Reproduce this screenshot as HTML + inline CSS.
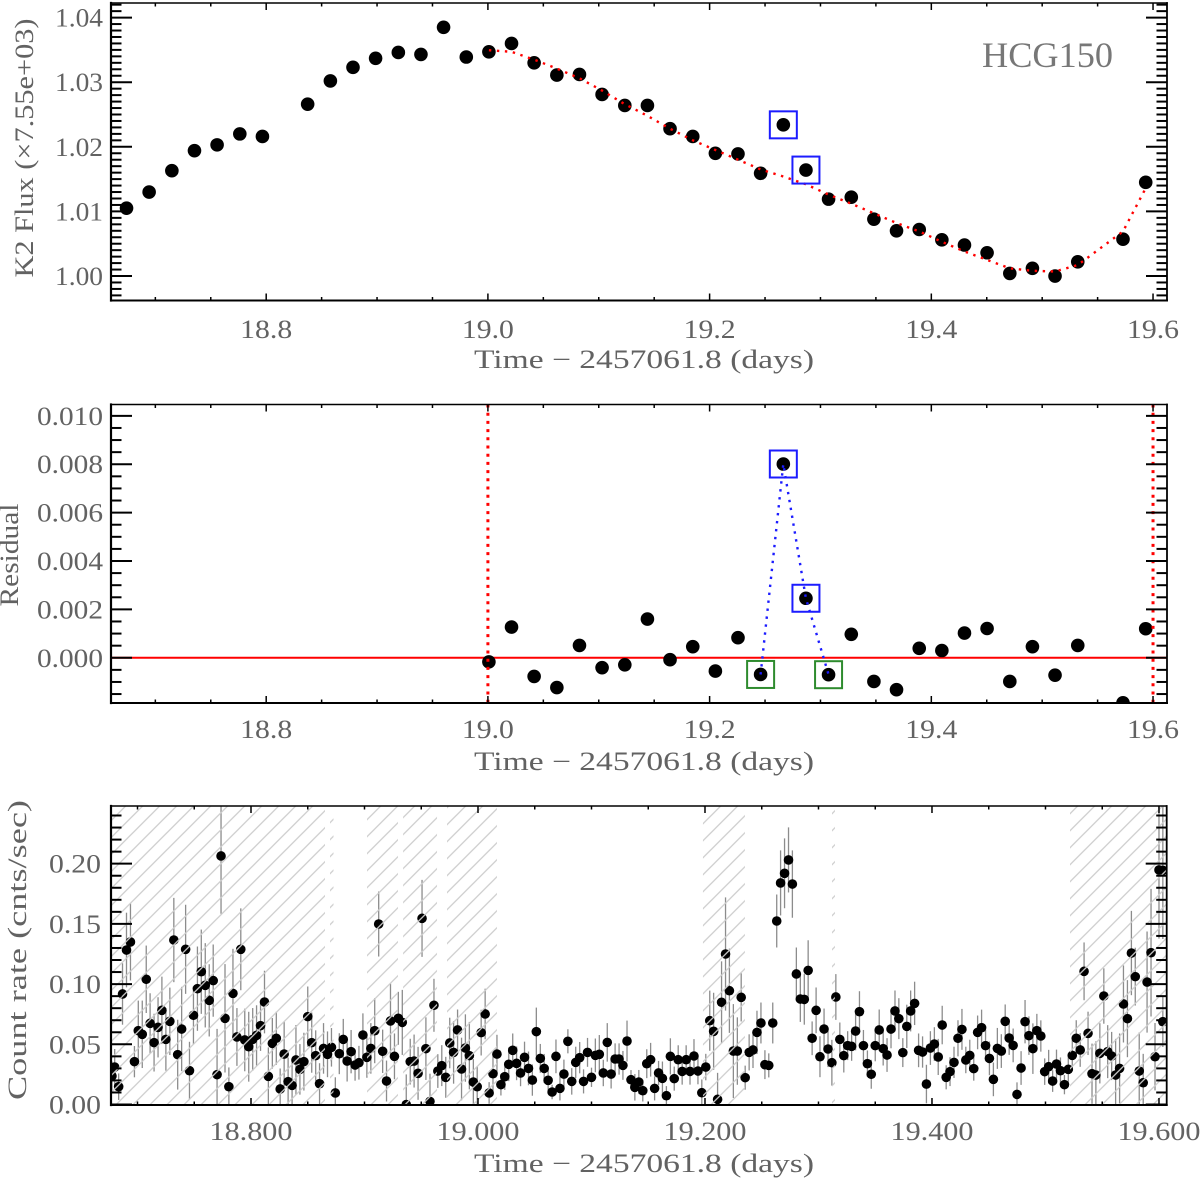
<!DOCTYPE html>
<html lang="en">
<head>
<meta charset="utf-8">
<title>HCG150 K2 and X-ray light curves</title>
<style>
html,body{margin:0;padding:0;background:#fff;}
svg{display:block;}
text{font-family:"Liberation Serif","DejaVu Serif",serif;fill:#626262;}
</style>
</head>
<body>
<svg id="chart" xmlns="http://www.w3.org/2000/svg" width="1200" height="1179" viewBox="0 0 1200 1179">
  <defs>
    <pattern id="flare-hatch" patternUnits="userSpaceOnUse" width="17" height="17" patternTransform="translate(13.7 0)">
      <path d="M-2 19L19 -2M-2 2L2 -2M15 19L19 15" stroke="#cdcdcd" stroke-width="1.3" fill="none"/>
    </pattern>
    <clipPath id="clip-k2"><rect x="111" y="3" width="1056" height="297.5"/></clipPath>
    <clipPath id="clip-resid"><rect x="111" y="404.5" width="1056" height="298.5"/></clipPath>
    <clipPath id="clip-xray"><rect x="111" y="806" width="1055.7" height="299"/></clipPath>
  </defs>

  <g id="panel-k2"></g>
  <g id="panel-resid"></g>
  <g id="panel-xray"></g>

  <text transform="translate(33 148) rotate(-90)" text-anchor="middle" font-size="26" textLength="259" lengthAdjust="spacingAndGlyphs">K2 Flux (×7.55e+03)</text>
  <text x="644" y="368" text-anchor="middle" font-size="26" textLength="340" lengthAdjust="spacingAndGlyphs">Time − 2457061.8 (days)</text>
  <text x="982" y="67" font-size="36" textLength="131" lengthAdjust="spacingAndGlyphs" style="fill:#777">HCG150</text>

  <text transform="translate(18 555) rotate(-90)" text-anchor="middle" font-size="26" textLength="103" lengthAdjust="spacingAndGlyphs">Residual</text>
  <text x="644" y="770" text-anchor="middle" font-size="26" textLength="340" lengthAdjust="spacingAndGlyphs">Time − 2457061.8 (days)</text>

  <text transform="translate(26 950) rotate(-90)" text-anchor="middle" font-size="26" textLength="300" lengthAdjust="spacingAndGlyphs">Count rate (cnts/sec)</text>
  <text x="644" y="1172" text-anchor="middle" font-size="26" textLength="340" lengthAdjust="spacingAndGlyphs">Time − 2457061.8 (days)</text>
</svg>

<script>
// ---- K2 light curve (days, normalised flux) ----
const k2Times = [18.6740,18.6944,18.7149,18.7353,18.7557,18.7762,18.7966,18.8374,18.8579,18.8783,18.8987,18.9192,18.9396,18.9600,18.9805,19.0009,19.0213,19.0417,19.0622,19.0826,19.1030,19.1235,19.1439,19.1643,19.1848,19.2052,19.2256,19.2460,19.2665,19.2869,19.3073,19.3278,19.3482,19.3686,19.3891,19.4095,19.4299,19.4503,19.4708,19.4912,19.5116,19.5321,19.5729,19.5934];
const k2Flux = [1.0105,1.0130,1.0163,1.0194,1.0203,1.0220,1.0216,1.0266,1.0302,1.0323,1.0337,1.0346,1.0343,1.0385,1.0339,1.0347,1.0360,1.0330,1.0311,1.0312,1.0281,1.0264,1.0264,1.0228,1.0216,1.0190,1.0189,1.0159,1.0234,1.0164,1.0119,1.0122,1.0088,1.0070,1.0072,1.0056,1.0048,1.0036,1.0004,1.0012,1.0000,1.0022,1.0057,1.0145];
const k2FluxFlagged = [[19.2665,1.0234],[19.2869,1.0164]];
const fitTimes = [19.0009,19.0213,19.0417,19.0622,19.0826,19.1030,19.1235,19.1439,19.1643,19.1848,19.2052,19.2256,19.2460,19.2665,19.2869,19.3073,19.3278,19.3482,19.3686,19.3891,19.4095,19.4299,19.4503,19.4708,19.4912,19.5116,19.5321,19.5525,19.5729,19.5934];
const fitFlux = [1.03495,1.0347,1.0335,1.0321,1.0306,1.0287,1.0266,1.0248,1.0228,1.0210,1.0195,1.0180,1.0165,1.0154,1.0142,1.0126,1.0112,1.0097,1.0082,1.0069,1.0053,1.0038,1.0025,1.0012,1.0008,1.0007,1.0017,1.0043,1.0069,1.0136];

// ---- Residuals ----
const residTimes = [19.0009,19.0213,19.0417,19.0622,19.0826,19.1030,19.1235,19.1439,19.1643,19.1848,19.2052,19.2256,19.2460,19.2665,19.2869,19.3073,19.3278,19.3482,19.3686,19.3891,19.4095,19.4299,19.4503,19.4708,19.4912,19.5116,19.5321,19.5729,19.5934];
const residuals = [-0.00017,0.00127,-0.00077,-0.00123,0.00051,-0.00041,-0.00029,0.0016,-0.00008,0.00046,-0.00055,0.00083,-0.00069,0.00801,0.00246,-0.0007,0.00097,-0.00098,-0.00132,0.00039,0.0003,0.00102,0.00121,-0.00098,0.00046,-0.00072,0.00051,-0.00186,0.0012];
const flareTimes = [19.2460,19.2665,19.2869,19.3073];
const flareResiduals = [-0.00069,0.00801,0.00246,-0.0007];
const flareBlueTimes = [19.2665,19.2869];
const flareBlueResiduals = [0.00801,0.00246];
const flareGreenTimes = [19.2460,19.3073];
const flareGreenResiduals = [-0.00069,-0.0007];
const windowLimits = [19.0,19.6];

// ---- X-ray light curve (days, counts/sec, 1-sigma error) ----
const xrayTimes = [18.6775,
18.6799,18.6834,18.6868,18.6903,18.6938,18.6973,18.7007,18.7042,18.7077,18.7111,
18.7146,18.7181,18.7215,18.7250,18.7285,18.7320,18.7354,18.7389,18.7424,18.7458,
18.7493,18.7528,18.7562,18.7597,18.7632,18.7667,18.7701,18.7736,18.7771,18.7805,
18.7841,18.7876,18.7910,18.7945,18.7980,18.8015,18.8049,18.8084,18.8119,18.8153,
18.8188,18.8223,18.8257,18.8292,18.8327,18.8362,18.8396,18.8431,18.8466,18.8500,
18.8535,18.8570,18.8604,18.8639,18.8674,18.8709,18.8743,18.8778,18.8813,18.8847,
18.8882,18.8917,18.8951,18.8986,18.9021,18.9056,18.9090,18.9125,18.9160,18.9194,
18.9229,18.9264,18.9298,18.9333,18.9368,18.9403,18.9437,18.9472,18.9507,18.9541,
18.9577,18.9612,18.9646,18.9681,18.9716,18.9751,18.9785,18.9820,18.9855,18.9889,
18.9924,18.9959,18.9993,19.0028,19.0063,19.0098,19.0132,19.0167,19.0202,19.0236,
19.0271,19.0306,19.0340,19.0375,19.0410,19.0445,19.0479,19.0514,19.0549,19.0583,
19.0618,19.0653,19.0687,19.0722,19.0757,19.0792,19.0826,19.0861,19.0896,19.0930,
19.0965,19.1000,19.1034,19.1069,19.1104,19.1139,19.1173,19.1208,19.1243,19.1277,
19.1313,19.1348,19.1382,19.1417,19.1452,19.1487,19.1521,19.1556,19.1591,19.1625,
19.1660,19.1695,19.1729,19.1764,19.1799,19.1834,19.1868,19.1903,19.1938,19.1972,
19.2007,19.2042,19.2076,19.2111,19.2146,19.2181,19.2215,19.2250,19.2285,19.2319,
19.2354,19.2389,19.2423,19.2458,19.2493,19.2528,19.2562,19.2597,19.2632,19.2666,
19.2701,19.2736,19.2770,19.2805,19.2840,19.2875,19.2909,19.2944,19.2979,19.3013,
19.3049,19.3084,19.3118,19.3153,19.3188,19.3223,19.3257,19.3292,19.3327,19.3361,
19.3396,19.3431,19.3465,19.3500,19.3535,19.3570,19.3604,19.3639,19.3674,19.3708,
19.3743,19.3778,19.3812,19.3847,19.3882,19.3917,19.3951,19.3986,19.4021,19.4055,
19.4090,19.4125,19.4159,19.4194,19.4229,19.4264,19.4298,19.4333,19.4368,19.4402,
19.4437,19.4472,19.4506,19.4541,19.4576,19.4611,19.4645,19.4680,19.4715,19.4749,
19.4785,19.4820,19.4854,19.4889,19.4924,19.4959,19.4993,19.5028,19.5063,19.5097,
19.5132,19.5167,19.5201,19.5236,19.5271,19.5306,19.5340,19.5375,19.5410,19.5444,
19.5479,19.5514,19.5548,19.5583,19.5618,19.5653,19.5687,19.5722,19.5757,19.5791,
19.5826,19.5861,19.5895,19.5930,19.5965,19.6000,19.6034,19.6034];
const xrayRates = [.0237,
.0311,.0148,.0918,.1283,.135,.0356,.0613,.0583,.104,.0674,
.0514,.0641,.0782,.0541,.0691,.1366,.0414,.0627,.1289,.0281,
.0741,.0962,.1103,.099,.0865,.1029,.0248,.2064,.0716,.0148,
.0923,.0561,.1289,.0536,.048,.0541,.0574,.0655,.0851,.0234,
.0508,.055,.0129,.0419,.019,.0159,.037,.0292,.0356,.073,
.0514,.0406,.0173,.0466,.0417,.0475,.0096,.0422,.0541,.0361,
.0439,.0328,.0347,.0577,.0392,.0466,.0613,.1499,.0442,.0195,
.0694,.04,.0716,.0682,0,.0356,.0361,.0259,.1546,.0464,
.0026,.0824,.0278,.0323,.0226,.0511,.0433,.0619,.0295,.0469,
.0406,.0187,.0148,.0597,.0752,.0096,.0256,.0419,.0165,.0231,
.0334,.045,.0342,.0262,.0392,.03,.0203,.0605,.0383,.03,
.0201,.0104,.04,.0134,.0253,.0525,.0192,.035,.0389,.0192,
.0433,.0226,.0408,.0417,.0262,.0516,.0253,.0378,.0378,.0325,
.0527,.0206,.0143,.0187,.0115,.0339,.0372,.0134,.0262,.0217,
.0073,.04,.0215,.0372,.0275,.0372,.0275,.0403,.0278,.0098,
.0311,.0696,.0608,.0043,.0849,.125,.0945,.0444,.0444,.089,
.0223,.0433,.0453,.0599,.0677,.0331,.0325,.0677,.1524,.184,
.192,.2031,.1831,.1084,.0876,.0873,.1114,.055,.0782,.0397,
.0627,.0461,.0347,.0893,.0541,.0406,.0489,.0483,.061,.0771,
.0489,.0339,.0251,.0489,.0619,.0464,.0411,.0627,.0777,.0713,
.0431,.0649,.0777,.084,.045,.0436,.017,.0469,.0502,.0395,
.066,.0226,.0273,.035,.055,.0624,.037,.0408,.0298,.0599,
.0638,.0489,.0383,.0209,.0466,.0444,.0691,.0552,.0491,.0084,
.0303,.0688,.0572,.0464,.0613,.0569,.0273,.0314,.0195,.0336,
.0281,.0165,.0292,.0408,.055,.0453,.1106,.0591,.0256,.0245,
.0425,.0901,.0439,.0403,.0245,.03,.0835,.0713,.1258,.1062,
.0278,.0181,.1017,.1261,.0397,.1948,.1945,.0688];
const xrayErrors = [.012,
.015,.011,.0255,.031,.032,.013,.025,.028,.028,.025,
.024,.025,.028,.026,.028,.035,.029,.035,.037,.024,
.024,.035,.035,.035,.03,.03,.038,.048,.045,.016,
.037,.024,.034,.026,.029,.026,.025,.021,.026,.024,
.021,.022,.017,.027,.02,.019,.029,.021,.024,.025,
.025,.021,.017,.021,.019,.016,.013,.017,.017,.017,
.018,.013,.014,.018,.017,.021,.027,.027,.018,.017,
.031,.019,.022,.027,.025,.019,.022,.022,.032,.026,
.023,.022,.014,.017,.017,.021,.026,.017,.026,.028,
.028,.019,.017,.019,.021,.009,.017,.016,.009,.011,
.014,.014,.014,.011,.013,.014,.013,.02,.012,.012,
.011,.006,.014,.01,.012,.01,.011,.013,.013,.01,
.012,.008,.014,.016,.011,.016,.012,.013,.013,.012,
.017,.008,.011,.01,.009,.012,.014,.01,.01,.014,
.008,.015,.01,.012,.011,.012,.011,.014,.011,.011,
.011,.025,.032,.022,.034,.047,.035,.039,.028,.02,
.01,.015,.015,.018,.017,.012,.01,.017,.022,.027,
.029,.027,.028,.022,.019,.021,.025,.014,.019,.017,
.017,.015,.019,.019,.014,.014,.012,.012,.016,.017,
.013,.011,.012,.013,.017,.014,.014,.016,.017,.017,
.012,.018,.017,.018,.014,.013,.016,.014,.014,.015,
.016,.01,.012,.013,.015,.017,.011,.013,.01,.014,
.015,.013,.014,.014,.017,.014,.014,.014,.014,.01,
.014,.018,.016,.021,.014,.013,.011,.014,.009,.012,
.011,.008,.013,.013,.015,.014,.024,.018,.025,.028,
.025,.023,.022,.02,.03,.029,.032,.032,.035,.024,
.032,.024,.042,.053,.028,.057,.057,.021];

// bad-background intervals (start, end in days)
const flareIntervalStarts = [18.6767,18.8696,18.9022,18.9340,18.9727,19.1982,19.3119,19.5216];
const flareIntervalEnds = [18.8652,18.8727,18.9295,18.9639,19.0167,19.2352,19.3145,19.6068];

// ---- Axis ticks ----
const k2XTickLabels = ["18.8","19.0","19.2","19.4","19.6"];
const k2YTickLabels = ["1.00","1.01","1.02","1.03","1.04"];
const residXTickLabels = ["18.8","19.0","19.2","19.4","19.6"];
const residYTickLabels = ["0.000","0.002","0.004","0.006","0.008","0.010"];
const xrayXTickLabels = ["18.800","19.000","19.200","19.400","19.600"];
const xrayYTickLabels = ["0.00","0.05","0.10","0.15","0.20"];

const SVG_NS = "http://www.w3.org/2000/svg";
function mk(parent, tag, attrs) {
  const el = document.createElementNS(SVG_NS, tag);
  for (const k in attrs) el.setAttribute(k, attrs[k]);
  parent.appendChild(el);
  return el;
}

function axisScale(domMin, domMax, pxMin, pxMax) {
  return v => pxMin + (v - domMin) / (domMax - domMin) * (pxMax - pxMin);
}

function drawFrame(root, box, x, y, opts) {
  const frame = mk(root, "g", {});
  
  

  // x ticks
  for (let t = opts.xMinorStart; t <= box.xMax + 1e-9; t += opts.xMinorStep) {
    const major = opts.xLabels.some(l => Math.abs(parseFloat(l) - t) < 1e-6);
    const len = major ? 7 : 3.5;
    const px = x(t);
    const tb = mk(frame, "line", {x1: px, x2: px, y1: box.bottom, y2: box.bottom - len, stroke: "#000", "stroke-width": 1.5});
    
    
    const tt = mk(frame, "line", {x1: px, x2: px, y1: box.top, y2: box.top + len, stroke: "#000", "stroke-width": 1.5});
    
    
  }
  // y ticks
  for (let k = 0; ; k++) {
    const v = opts.yMinorStart + k * opts.yMinorStep;
    if (v > box.yMax + 1e-9) break;
    const major = opts.yLabels.some(l => Math.abs(parseFloat(l) - v) < 1e-6);
    const len = major ? 21 : 10.5;
    const py = y(v);
    const tl = mk(frame, "line", {x1: box.left, x2: box.left + len, y1: py, y2: py, stroke: "#000", "stroke-width": 2});
    
    
    const tr = mk(frame, "line", {x1: box.right, x2: box.right - len, y1: py, y2: py, stroke: "#000", "stroke-width": 2});
    
    
  }
  // border
  const edges = [[box.left, box.top, box.right, box.top, 1.6], [box.left, box.bottom, box.right, box.bottom, 2], [box.left, box.top, box.left, box.bottom, 2.2], [box.right, box.top, box.right, box.bottom, 1.8]];
  edges.forEach(e => {
    const b = mk(frame, "line", {x1: e[0], y1: e[1], x2: e[2], y2: e[3], stroke: "#000", "stroke-width": e[4], "stroke-linecap": "square"});
    
    
  });
  // labels
  opts.xLabels.forEach(l => {
    const tx = mk(frame, "text", {x: x(parseFloat(l)), y: opts.xLabelY, "text-anchor": "middle", "font-size": 26, textLength: opts.xLabelWidth, lengthAdjust: "spacingAndGlyphs"});
    tx.textContent = l;
    
    
  });
  opts.yLabels.forEach(l => {
    const tx = mk(frame, "text", {x: opts.yLabelRight, y: y(parseFloat(l)) + 9, "text-anchor": "end", "font-size": 26, textLength: opts.yLabelWidth, lengthAdjust: "spacingAndGlyphs"});
    tx.textContent = l;
    
    
  });
}

function drawDots(parent, times, values, x, y, r, name) {
  times.forEach((t, i) => {
    const d = mk(parent, "circle", {cx: x(t), cy: y(values[i]), r: r, fill: "#000"});
    
    
  });
}

function drawBoxes(parent, times, values, x, y, color, name) {
  times.forEach((t, i) => {
    const b = mk(parent, "rect", {x: x(t) - 13.5, y: y(values[i]) - 13.5, width: 27, height: 27, fill: "none", stroke: color, "stroke-width": 2});
    
    
  });
}

function polyPoints(times, values, x, y) {
  return times.map((t, i) => x(t).toFixed(1) + "," + y(values[i]).toFixed(1)).join(" ");
}

// ---- Panel 1: K2 flux ----
(function () {
  const box = {left: 111, right: 1167, top: 3, bottom: 300.5, xMin: 18.66, xMax: 19.6126, yMin: 0.99621, yMax: 1.04226};
  const x = axisScale(box.xMin, box.xMax, box.left, box.right);
  const y = axisScale(box.yMin, box.yMax, box.bottom, box.top);
  const root = document.getElementById("panel-k2");
  const plot = mk(root, "g", {"clip-path": "url(#clip-k2)"});
  
  
  drawDots(plot, k2Times, k2Flux, x, y, 6.8, 'k2-flux-point');
  const fit = mk(plot, "polyline", {points: polyPoints(fitTimes, fitFlux, x, y), fill: "none", stroke: "#f00", "stroke-width": 2.4, "stroke-dasharray": "2.4 5.6"});
  
  
  drawBoxes(plot, k2FluxFlagged.map(p => p[0]), k2FluxFlagged.map(p => p[1]), x, y, "#1c1cff", 'flare-marker-blue');
  drawFrame(root, box, x, y, {xMinorStart: 18.7, xMinorStep: 0.05, xLabels: k2XTickLabels, xLabelY: 338, xLabelWidth: 52, yMinorStart: 0.997, yMinorStep: 0.001, yLabels: k2YTickLabels, yLabelRight: 103, yLabelWidth: 48});
})();

// ---- Panel 2: residuals ----
(function () {
  const box = {left: 111, right: 1167, top: 404.5, bottom: 703, xMin: 18.66, xMax: 19.6126, yMin: -0.00187, yMax: 0.01047};
  const x = axisScale(box.xMin, box.xMax, box.left, box.right);
  const y = axisScale(box.yMin, box.yMax, box.bottom, box.top);
  const root = document.getElementById("panel-resid");
  const plot = mk(root, "g", {"clip-path": "url(#clip-resid)"});
  
  
  const zero = mk(plot, "line", {x1: box.left, x2: box.right, y1: y(0), y2: y(0), stroke: "#f00", "stroke-width": 2});
  
  
  drawDots(plot, residTimes, residuals, x, y, 6.8, 'residual-point');
  windowLimits.forEach(t => {
    const v = mk(plot, "line", {x1: x(t), x2: x(t), y1: box.top, y2: box.bottom, stroke: "#f00", "stroke-width": 3, "stroke-dasharray": "3 5.2"});
    
    
  });
  const link = mk(plot, "polyline", {points: polyPoints(flareTimes, flareResiduals, x, y), fill: "none", stroke: "#1c1cff", "stroke-width": 2.4, "stroke-dasharray": "2.4 5.6"});
  
  
  drawBoxes(plot, flareBlueTimes, flareBlueResiduals, x, y, "#1c1cff", 'flare-marker-blue');
  drawBoxes(plot, flareGreenTimes, flareGreenResiduals, x, y, "#2e8b2e", 'flare-edge-marker-green');
  drawFrame(root, box, x, y, {xMinorStart: 18.7, xMinorStep: 0.05, xLabels: residXTickLabels, xLabelY: 738, xLabelWidth: 52, yMinorStart: -0.0015, yMinorStep: 0.0005, yLabels: residYTickLabels, yLabelRight: 103, yLabelWidth: 66});
})();

// ---- Panel 3: X-ray count rate ----
(function () {
  const box = {left: 111, right: 1166.7, top: 806, bottom: 1105, xMin: 18.67665, xMax: 19.6068, yMin: -0.0004, yMax: 0.2479};
  const x = axisScale(box.xMin, box.xMax, box.left, box.right);
  const y = axisScale(box.yMin, box.yMax, box.bottom, box.top);
  const root = document.getElementById("panel-xray");
  const plot = mk(root, "g", {"clip-path": "url(#clip-xray)"});
  
  
  xrayTimes.forEach((t, i) => {
    const e = mk(plot, "line", {x1: x(t), x2: x(t), y1: y(xrayRates[i] - xrayErrors[i]), y2: y(xrayRates[i] + xrayErrors[i]), stroke: "#8c8c8c", "stroke-width": 1.3});
    
    
  });
  drawDots(plot, xrayTimes, xrayRates, x, y, 4.8, 'count-rate-point');
  flareIntervalStarts.forEach((s, i) => {
    const r = mk(plot, "rect", {x: x(s), y: box.top, width: x(flareIntervalEnds[i]) - x(s), height: box.bottom - box.top, fill: "url(#flare-hatch)"});
    
    
  });
  drawFrame(root, box, x, y, {xMinorStart: 18.7, xMinorStep: 0.05, xLabels: xrayXTickLabels, xLabelY: 1140, xLabelWidth: 83, yMinorStart: 0, yMinorStep: 0.01, yLabels: xrayYTickLabels, yLabelRight: 101, yLabelWidth: 52});
})();
</script>
</body>
</html>
